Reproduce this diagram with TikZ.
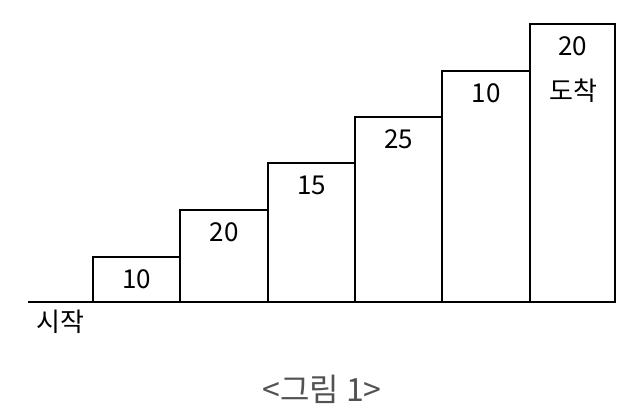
\documentclass[tikz,border=0pt]{standalone}
\usepackage{fontspec}
\setmainfont{Noto Sans CJK KR}
\begin{document}
\begin{tikzpicture}[x=0.75pt,y=-0.75pt,
  stair/.style={draw=black,line width=2.1pt,fill=white},
  lbl/.style={font=\fontsize{19.5}{22}\selectfont,text=black,inner sep=0pt},
  figcap/.style={font=\fontsize{24}{28}\selectfont,text=black!68,inner sep=0pt}]
\useasboundingbox (0,0) rectangle (630,416);
\coordinate (s) at (28,302);
\coordinate (e) at (615,302);
\draw[line width=2.1pt] (s) -- (e);
\foreach \i/\xa/\xb/\t/\v in {1/93/180/257/10,2/180/268/210/20,3/268/355/163/15,4/355/442/117/25,5/442/530/71/10,6/530/615/24/20}{
  \draw[stair] (\xa,302) rectangle (\xb,\t);
  \node[lbl] (n\i) at ({(\xa+\xb)/2},\t+22) {\v};
}
\node[lbl] (goal) at (573,91) {도착};
\node[lbl] (start) at (60,322) {시작};
\node[figcap] (caption) at (322,389) {<그림 1>};
\end{tikzpicture}
\end{document}
